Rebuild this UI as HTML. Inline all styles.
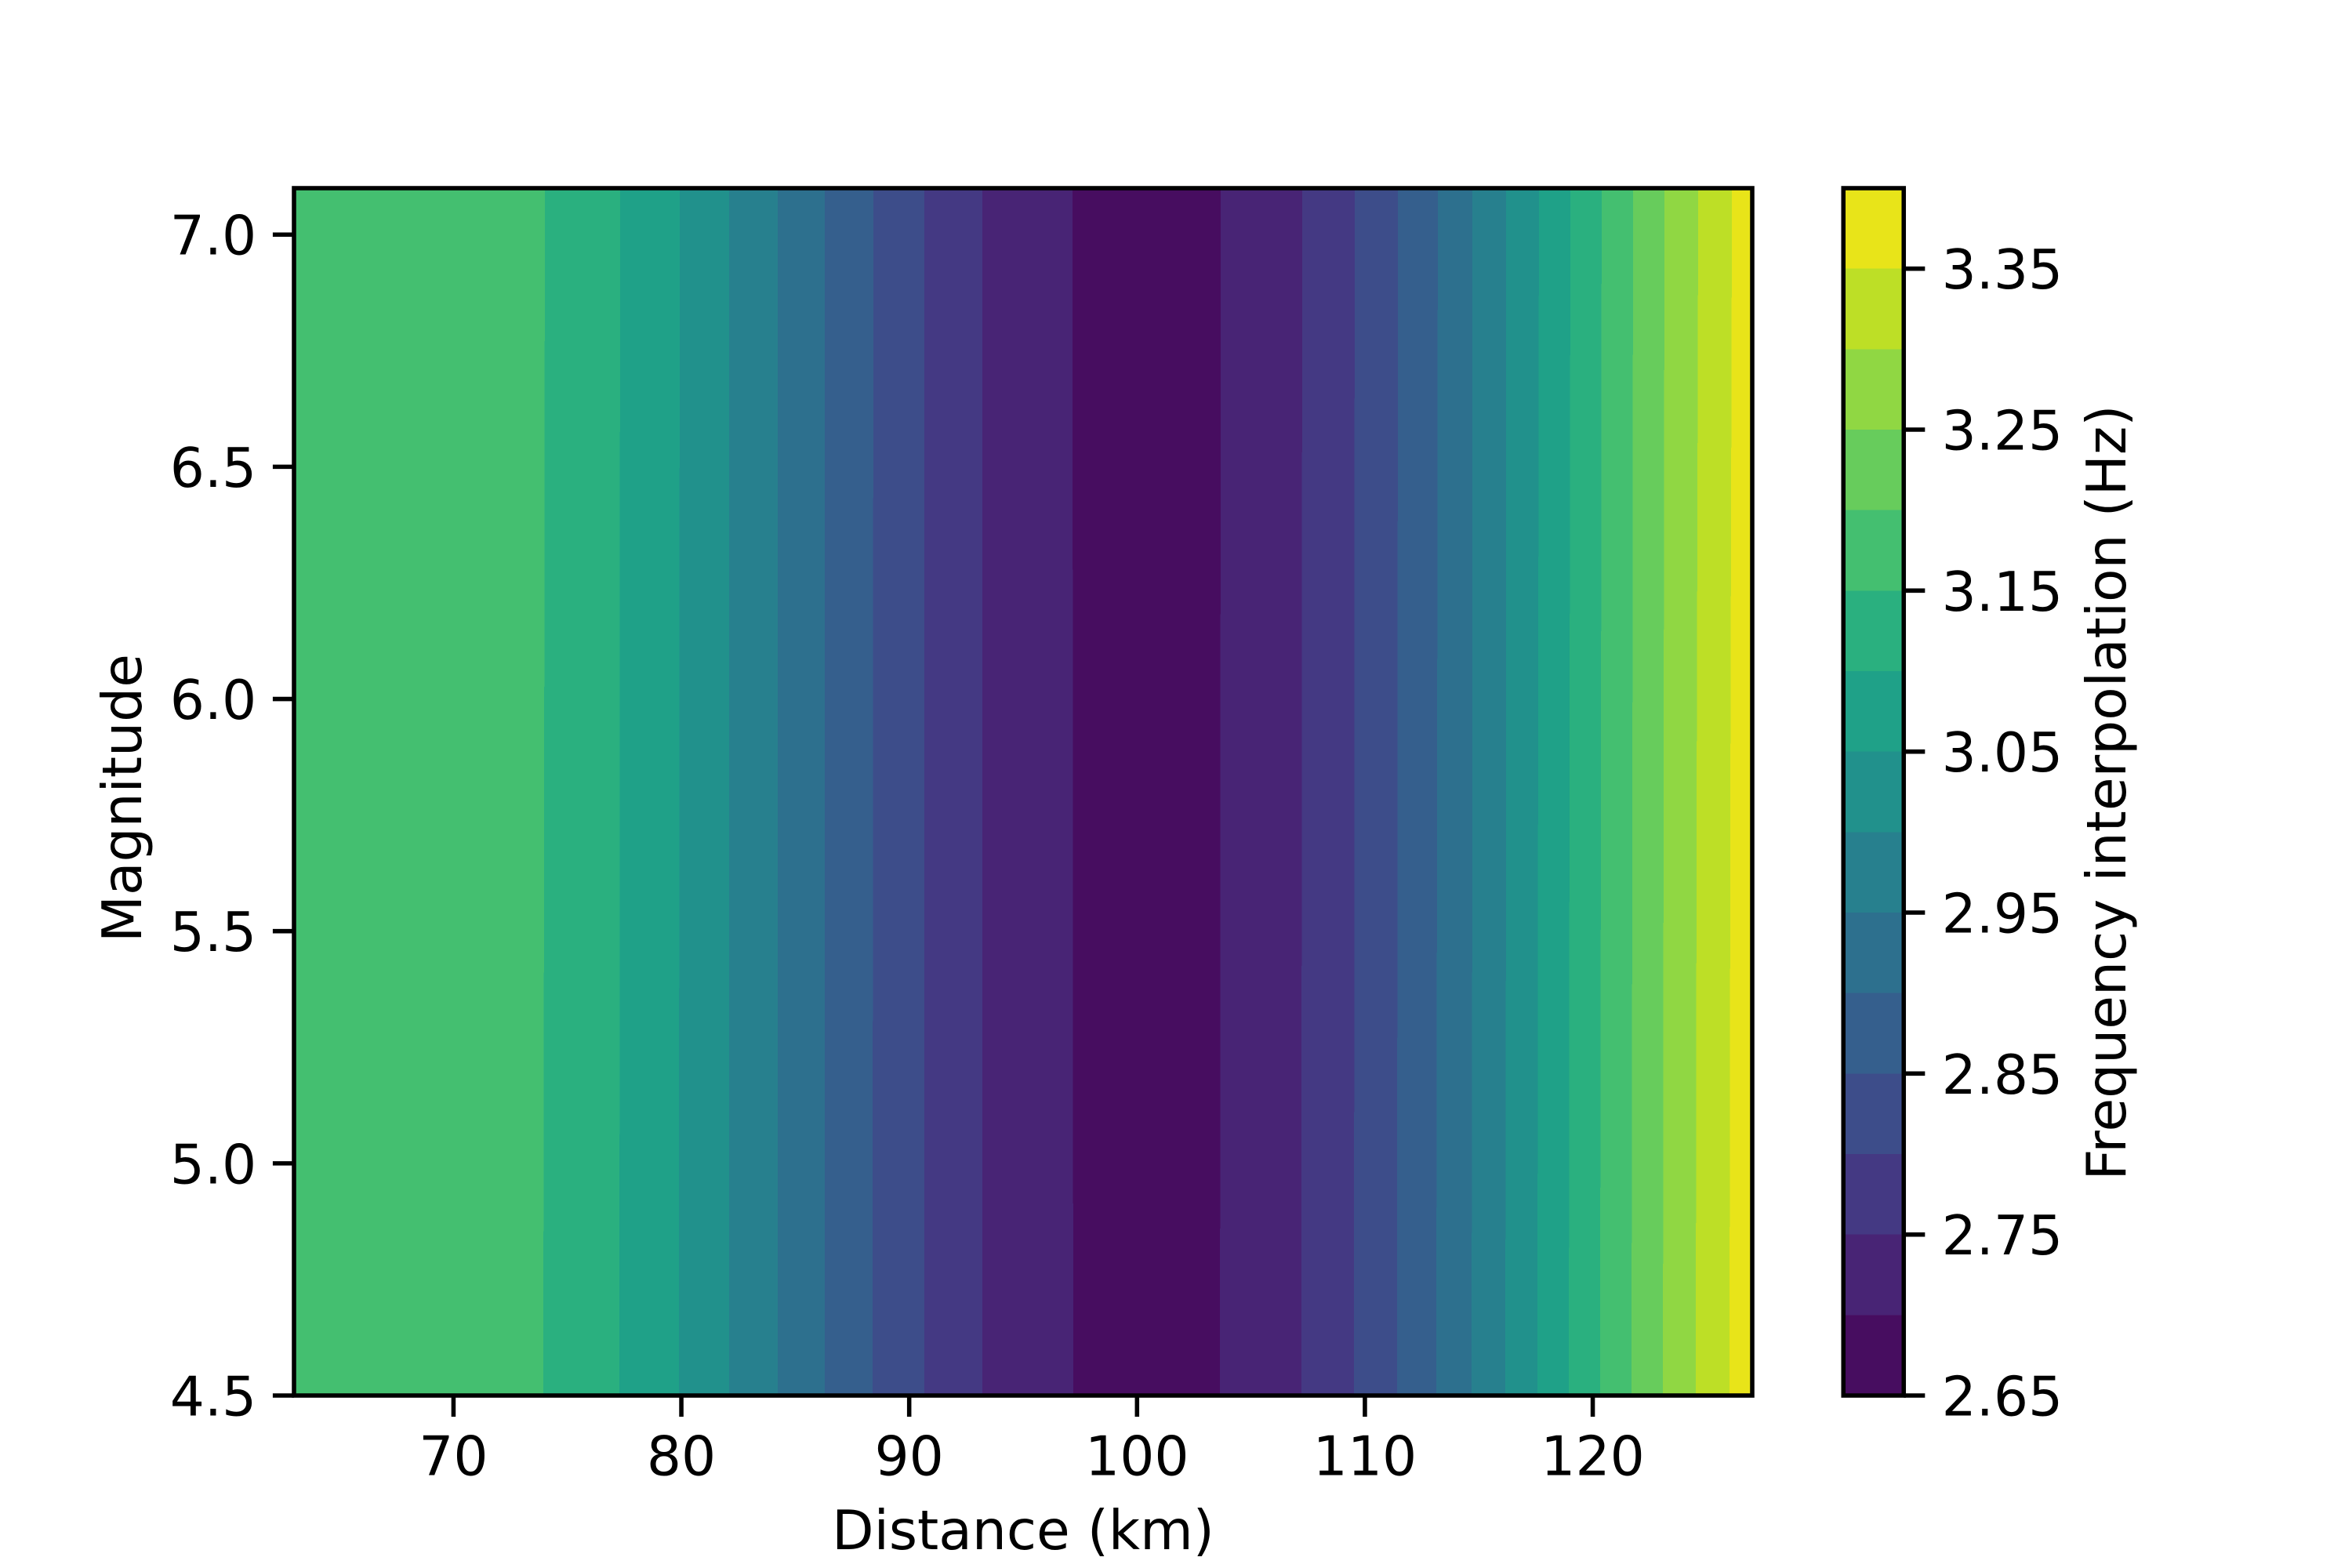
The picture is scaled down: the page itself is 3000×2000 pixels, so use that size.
<!DOCTYPE html>
<html lang="en">
<head>
<meta charset="utf-8">
<title>Frequency interpolation contour chart</title>
<style>
  html, body { margin: 0; padding: 0; background: #fff; }
  svg { display: block; }
  text { font-family: "DejaVu Sans", "Liberation Sans", sans-serif; font-size: 69.44px; fill: #000; }
</style>
</head>
<body>
<svg id="chart" xmlns="http://www.w3.org/2000/svg" width="3000" height="2000" viewBox="0 0 3000 2000">
  <rect x="0" y="0" width="3000" height="2000" fill="#ffffff"/>
  <g id="bands" shape-rendering="crispEdges"></g>
  <g id="colorbar-bands" shape-rendering="crispEdges"></g>
  <rect x="375" y="240" width="1860" height="1540" fill="none" stroke="#000" stroke-width="5.55"/>
  <rect x="2351.25" y="240" width="77" height="1540" fill="none" stroke="#000" stroke-width="5.55"/>
  <g id="x-axis"></g>
  <g id="y-axis"></g>
  <g id="colorbar-axis"></g>
  <text x="1305" y="1976" text-anchor="middle">Distance (km)</text>
  <text transform="translate(180,1018) rotate(-90)" text-anchor="middle">Magnitude</text>
  <text transform="translate(2711,1011) rotate(-90)" text-anchor="middle">Frequency interpolation (Hz)</text>
</svg>
<script>
// ---- chart data ----
const xDomain = [63, 127];
const yDomain = [4.5, 7.1];
const colorDomain = [2.65, 3.40];
const xTicks = [70, 80, 90, 100, 110, 120];
const yTickLabels = ['4.5', '5.0', '5.5', '6.0', '6.5', '7.0'];
const colorTickLabels = ['2.65', '2.75', '2.85', '2.95', '3.05', '3.15', '3.25', '3.35'];
// contour levels (Hz): each filled band spans levels[i]..levels[i+1]
const levels = [2.65, 2.70, 2.75, 2.80, 2.85, 2.90, 2.95, 3.00, 3.05, 3.10, 3.15, 3.20, 3.25, 3.30, 3.35, 3.40];
const levelColors = ['#470d60', '#482475', '#443983', '#3d4d8a', '#355f8d', '#2d708e', '#27808e', '#21918c', '#1fa188', '#2ab07f', '#44bf70', '#67cc5c', '#90d743', '#bddf26', '#e8e419'];
// level band shown left to right across the distance axis
const bandSequence = [10, 9, 8, 7, 6, 5, 4, 3, 2, 1, 0, 1, 2, 3, 4, 5, 6, 7, 8, 9, 10, 11, 12, 13, 14];
// magnitudes at which the contour crossings were read
const magnitudeRows = [7.1, 5.8, 4.5];
// distance (km) of each contour crossing at those magnitudes
const crossingsAtTop = [74.01, 77.31, 79.93, 82.10, 84.23, 86.29, 88.43, 90.66, 93.21, 97.17, 103.67, 107.25, 109.55, 111.45, 113.20, 114.72, 116.20, 117.64, 119.02, 120.39, 121.77, 123.15, 124.63, 126.11];
const crossingsAtMiddle = [73.98, 77.30, 79.91, 82.10, 84.23, 86.29, 88.41, 90.66, 93.21, 97.18, 103.66, 107.23, 109.54, 111.43, 113.17, 114.72, 116.20, 117.60, 118.98, 120.36, 121.74, 123.11, 124.56, 126.04];
const crossingsAtBottom = [73.94, 77.28, 79.89, 82.10, 84.23, 86.29, 88.39, 90.66, 93.21, 97.20, 103.64, 107.21, 109.52, 111.41, 113.13, 114.68, 116.16, 117.57, 118.95, 120.32, 121.70, 123.08, 124.52, 126.00];

// ---- layout ----
const plot = { left: 375, right: 2235, top: 240, bottom: 1780 };
const bar = { left: 2351.25, right: 2428.25 };
const tickLength = 24.3;
const tickWidth = 5.55;
const labelPad = 24.3;
const NS = 'http://www.w3.org/2000/svg';

const xScale = v => plot.left + (v - xDomain[0]) / (xDomain[1] - xDomain[0]) * (plot.right - plot.left);
const yScale = v => plot.bottom - (v - yDomain[0]) / (yDomain[1] - yDomain[0]) * (plot.bottom - plot.top);
const colorScale = v => plot.bottom - (v - colorDomain[0]) / (colorDomain[1] - colorDomain[0]) * (plot.bottom - plot.top);

function make(tag, attrs, parent) {
  const node = document.createElementNS(NS, tag);
  for (const k in attrs) node.setAttribute(k, attrs[k]);
  parent.appendChild(node);
  return node;
}

// filled contour bands
const bandsGroup = document.getElementById('bands');
const crossingRows = [crossingsAtTop, crossingsAtMiddle, crossingsAtBottom];
bandSequence.forEach((levelIndex, i) => {
  const leftEdge = crossingRows.map((row, r) => {
    const km = i === 0 ? xDomain[0] : row[i - 1];
    return xScale(km).toFixed(2) + ',' + yScale(magnitudeRows[r]).toFixed(2);
  });
  const rightEdge = crossingRows.map((row, r) => {
    const km = i === bandSequence.length - 1 ? xDomain[1] : row[i];
    return xScale(km).toFixed(2) + ',' + yScale(magnitudeRows[r]).toFixed(2);
  }).reverse();
  const band = make('polygon', { points: leftEdge.concat(rightEdge).join(' '), fill: levelColors[levelIndex] }, bandsGroup);
  
  
});

// colorbar swatches
const barGroup = document.getElementById('colorbar-bands');
levelColors.forEach((color, i) => {
  const top = colorScale(levels[i + 1]);
  const bottom = colorScale(levels[i]);
  const swatch = make('rect', { x: bar.left, y: top, width: bar.right - bar.left, height: bottom - top, fill: color }, barGroup);
  
  
});

// x axis
const xAxis = document.getElementById('x-axis');
xTicks.forEach(v => {
  const x = xScale(v);
  const tick = make('line', { x1: x, x2: x, y1: plot.bottom, y2: plot.bottom + tickLength + tickWidth / 2, stroke: '#000', 'stroke-width': tickWidth }, xAxis);
  
  
  const label = make('text', { x: x, y: 1881.5, 'text-anchor': 'middle' }, xAxis);
  label.textContent = String(v);
  
  
});

// y axis
const yAxis = document.getElementById('y-axis');
yTickLabels.forEach(text => {
  const y = yScale(parseFloat(text));
  const tick = make('line', { x1: plot.left - tickLength - tickWidth / 2, x2: plot.left, y1: y, y2: y, stroke: '#000', 'stroke-width': tickWidth }, yAxis);
  
  
  const label = make('text', { x: plot.left - tickLength - tickWidth / 2 - labelPad + 3.5, y: y + 25.5, 'text-anchor': 'end' }, yAxis);
  label.textContent = text;
  
  
});

// colorbar axis
const colorAxis = document.getElementById('colorbar-axis');
colorTickLabels.forEach(text => {
  const y = colorScale(parseFloat(text));
  const tick = make('line', { x1: bar.right, x2: bar.right + tickLength + tickWidth / 2, y1: y, y2: y, stroke: '#000', 'stroke-width': tickWidth }, colorAxis);
  
  
  const label = make('text', { x: bar.right + tickLength + tickWidth / 2 + labelPad - 3, y: y + 25.5, 'text-anchor': 'start' }, colorAxis);
  label.textContent = text;
  
  
});
</script>
</body>
</html>
